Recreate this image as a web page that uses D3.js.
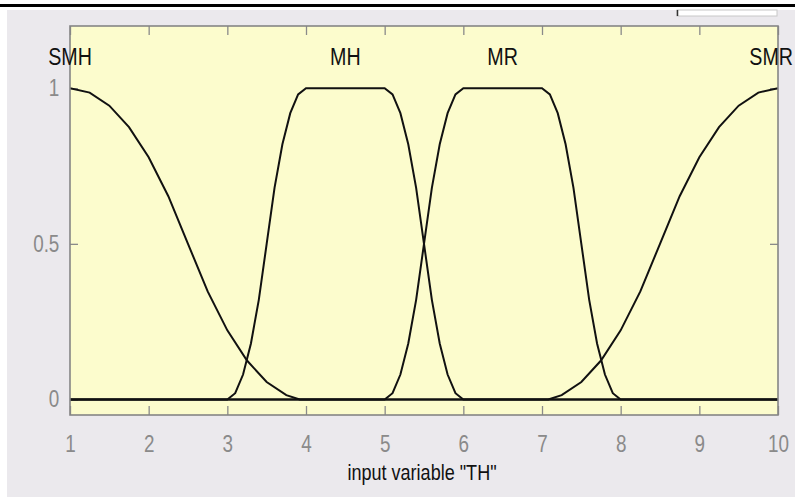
<!DOCTYPE html>
<html>
<head>
<meta charset="utf-8">
<script src="https://cdn.jsdelivr.net/npm/d3@7"></script>
<style>
  body { margin: 0; background: #fff; }
  svg { display: block; }
</style>
</head>
<body>
<div id="canvas"></div>
<script>
// values
const xTicks = [1, 2, 3, 4, 5, 6, 7, 8, 9, 10];
const yTicks = [0, 0.5, 1];
const mfNames = ["SMH", "MH", "MR", "SMR"];
const mfLabelX = [1, 4.5, 6.5, 10];

const smhX = [1, 1.25, 1.5, 1.75, 2, 2.25, 2.5, 2.75, 3, 3.25, 3.5, 3.75, 3.92, 10];
const smhY = [1, 0.986, 0.944, 0.875, 0.778, 0.653, 0.5, 0.347, 0.222, 0.125, 0.056, 0.014, 0, 0];

const mhX = [1, 3, 3.1, 3.2, 3.3, 3.4, 3.5, 3.6, 3.7, 3.8, 3.9, 4, 5, 5.1, 5.2, 5.3, 5.4, 5.5, 5.6, 5.7, 5.8, 5.9, 6, 10];
const mhY = [0, 0, 0.02, 0.08, 0.18, 0.32, 0.5, 0.68, 0.82, 0.92, 0.98, 1, 1, 0.98, 0.92, 0.82, 0.68, 0.5, 0.32, 0.18, 0.08, 0.02, 0, 0];

const mrX = [1, 5, 5.1, 5.2, 5.3, 5.4, 5.5, 5.6, 5.7, 5.8, 5.9, 6, 7, 7.1, 7.2, 7.3, 7.4, 7.5, 7.6, 7.7, 7.8, 7.9, 8, 10];
const mrY = [0, 0, 0.02, 0.08, 0.18, 0.32, 0.5, 0.68, 0.82, 0.92, 0.98, 1, 1, 0.98, 0.92, 0.82, 0.68, 0.5, 0.32, 0.18, 0.08, 0.02, 0, 0];

const smrX = [1, 7.08, 7.25, 7.5, 7.75, 8, 8.25, 8.5, 8.75, 9, 9.25, 9.5, 9.75, 10];
const smrY = [0, 0, 0.014, 0.056, 0.125, 0.222, 0.347, 0.5, 0.653, 0.778, 0.875, 0.944, 0.986, 1];

const series = [[smhX, smhY], [mhX, mhY], [mrX, mrY], [smrX, smrY]];

const width = 795;
const height = 497;
const plot = { left: 70, right: 778, top: 26, bottom: 415 };
const narrow = "scale(0.82,1)";

const svg = d3.select("#canvas").append("svg")
  .attr("width", width)
  .attr("height", height);

// window chrome
svg.append("rect").attr("x", 0).attr("y", 4).attr("width", width).attr("height", 3).attr("fill", "#000");
svg.append("rect").attr("x", 7).attr("y", 10).attr("width", width - 7).attr("height", height - 10).attr("fill", "#ebe9ed");
svg.append("rect").attr("x", 677).attr("y", 10).attr("width", 100).attr("height", 6)
  .attr("fill", "#fff").attr("stroke", "#c8c8c8").attr("stroke-width", 1);
svg.append("line").attr("x1", 677.5).attr("x2", 677.5).attr("y1", 10).attr("y2", 16)
  .attr("stroke", "#333").attr("stroke-width", 1.5);

const x = d3.scaleLinear().domain([1, 10]).range([plot.left, plot.right]);
const y = d3.scaleLinear().domain([-0.05, 1.2]).range([plot.bottom, plot.top]);

svg.append("rect")
  .attr("x", plot.left).attr("y", plot.top)
  .attr("width", plot.right - plot.left).attr("height", plot.bottom - plot.top)
  .attr("fill", "#fcfccd");

svg.append("clipPath").attr("id", "clip").append("rect")
  .attr("x", plot.left).attr("y", plot.top)
  .attr("width", plot.right - plot.left).attr("height", plot.bottom - plot.top);

// axes
const gx = svg.append("g").attr("transform", `translate(0,${plot.bottom})`)
  .call(d3.axisBottom(x).tickValues(xTicks).tickSizeInner(-9).tickSizeOuter(0).tickPadding(21));
const gxTop = svg.append("g").attr("transform", `translate(0,${plot.top})`)
  .call(d3.axisTop(x).tickValues(xTicks).tickSizeInner(-9).tickSizeOuter(0).tickFormat(""));
const gy = svg.append("g").attr("transform", `translate(${plot.left},0)`)
  .call(d3.axisLeft(y).tickValues(yTicks).tickSizeInner(-8).tickSizeOuter(0).tickPadding(13).tickFormat(d3.format("")));
const gyRight = svg.append("g").attr("transform", `translate(${plot.right},0)`)
  .call(d3.axisRight(y).tickValues(yTicks).tickSizeInner(-8).tickSizeOuter(0).tickFormat(""));

[gx, gxTop, gy, gyRight].forEach(g => {
  g.select(".domain").remove();
  g.selectAll(".tick line").attr("stroke", "#8a8a8a").attr("stroke-width", 1.3);
  g.selectAll(".tick text")
    .attr("fill", "#8a8a8a")
    .style("font-family", "'Liberation Sans', Arial, sans-serif")
    .style("font-size", "23px")
    .attr("transform", narrow);
});

// membership functions
const line = d3.line().x(d => x(d[0])).y(d => y(d[1]));
svg.append("g").attr("clip-path", "url(#clip)")
  .selectAll("path").data(series).enter().append("path")
  .attr("d", s => line(s[0].map((v, i) => [v, s[1][i]])))
  .attr("fill", "none")
  .attr("stroke", "#111")
  .attr("stroke-width", 2);

// plot frame
svg.append("rect")
  .attr("x", plot.left).attr("y", plot.top)
  .attr("width", plot.right - plot.left).attr("height", plot.bottom - plot.top)
  .attr("fill", "none").attr("stroke", "#858585").attr("stroke-width", 1.6);

// mf names (last one kept inside the window)
svg.append("g").selectAll("text").data(mfNames).enter().append("text")
  .attr("transform", (d, i) => {
    const last = i === mfNames.length - 1;
    return `translate(${last ? width - 2 : x(mfLabelX[i])},65) ${narrow}`;
  })
  .attr("text-anchor", (d, i) => i === mfNames.length - 1 ? "end" : "middle")
  .style("font-family", "'Liberation Sans', Arial, sans-serif")
  .style("font-size", "24px")
  .attr("fill", "#111")
  .text(d => d);

// x label
svg.append("text")
  .attr("transform", `translate(422,480) ${narrow}`)
  .attr("text-anchor", "middle")
  .style("font-family", "'Liberation Sans', Arial, sans-serif")
  .style("font-size", "22px")
  .attr("fill", "#111")
  .text('input variable "TH"');
</script>
</body>
</html>
